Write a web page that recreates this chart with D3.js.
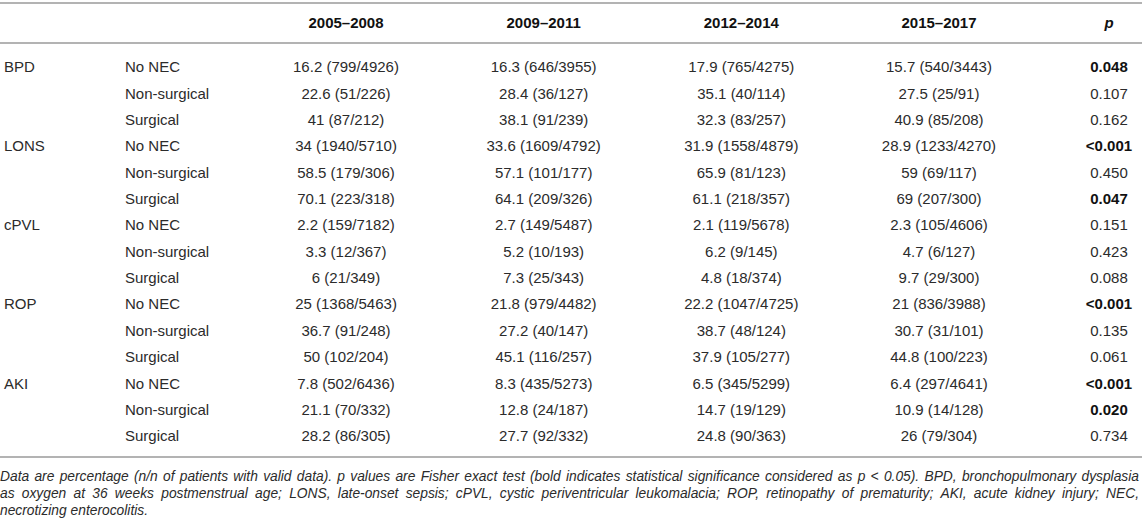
<!DOCTYPE html>
<html><head><meta charset="utf-8">
<script src="https://cdn.jsdelivr.net/npm/d3@7"></script>
<style>html,body{margin:0;padding:0;background:#fff;}svg{display:block;}</style>
</head><body><svg id="c" width="1142" height="525"></svg>
<script>
const outcomes = ["BPD","LONS","cPVL","ROP","AKI"];
const groups = ["No NEC","Non-surgical","Surgical"];
const periods = ["2005–2008","2009–2011","2012–2014","2015–2017"];
const pct = [
 [16.2,16.3,17.9,15.7],[22.6,28.4,35.1,27.5],[41,38.1,32.3,40.9],
 [34,33.6,31.9,28.9],[58.5,57.1,65.9,59],[70.1,64.1,61.1,69],
 [2.2,2.7,2.1,2.3],[3.3,5.2,6.2,4.7],[6,7.3,4.8,9.7],
 [25,21.8,22.2,21],[36.7,27.2,38.7,30.7],[50,45.1,37.9,44.8],
 [7.8,8.3,6.5,6.4],[21.1,12.8,14.7,10.9],[28.2,27.7,24.8,26]
];
const nEvents = [
 [799,646,765,540],[51,36,40,25],[87,91,83,85],
 [1940,1609,1558,1233],[179,101,81,69],[223,209,218,207],
 [159,149,119,105],[12,10,9,6],[21,25,18,29],
 [1368,979,1047,836],[91,40,48,31],[102,116,105,100],
 [502,435,345,297],[70,24,19,14],[86,92,90,79]
];
const nTotal = [
 [4926,3955,4275,3443],[226,127,114,91],[212,239,257,208],
 [5710,4792,4879,4270],[306,177,123,117],[318,326,357,300],
 [7182,5487,5678,4606],[367,193,145,127],[349,343,374,300],
 [5463,4482,4725,3988],[248,147,124,101],[204,257,277,223],
 [6436,5273,5299,4641],[332,187,129,128],[305,332,363,304]
];
const pValues = ["0.048","0.107","0.162","<0.001","0.450","0.047","0.151","0.423","0.088","<0.001","0.135","0.061","<0.001","0.020","0.734"];
const pBold = [true,false,false,true,false,true,false,false,false,true,false,false,true,true,false];
const footnote = [
 "Data are percentage (n/n of patients with valid data). p values are Fisher exact test (bold indicates statistical significance considered as p < 0.05). BPD, bronchopulmonary dysplasia",
 "as oxygen at 36 weeks postmenstrual age; LONS, late-onset sepsis; cPVL, cystic periventricular leukomalacia; ROP, retinopathy of prematurity; AKI, acute kidney injury; NEC,",
 "necrotizing enterocolitis."
];

const svg = d3.select("#c");
const font = "'Liberation Sans', Arial, Helvetica, sans-serif";
const txt = "#2b2b2b";
const rows = d3.range(pct.length);
const x = d3.scalePoint().domain(periods).range([346, 939]);
const xP = 1109;
const y = d3.scalePoint().domain(rows).range([67, 436]);
const lineColor = "#b3b3b3";

// rules
[3, 43, 457].forEach(yy => svg.append("line").attr("x1",0).attr("x2",1142).attr("y1",yy).attr("y2",yy)
  .attr("stroke",lineColor).attr("stroke-width",2));

// header
svg.selectAll("text.hdr").data(periods).join("text").attr("class","hdr")
  .attr("x", d=>x(d)).attr("y", 23).attr("dy","0.35em").attr("text-anchor","middle")
  .attr("font-family",font).attr("font-size",15).attr("font-weight","bold").attr("fill","#111").text(d=>d);
svg.append("text").attr("x",xP).attr("y",23).attr("dy","0.35em").attr("text-anchor","middle")
  .attr("font-family",font).attr("font-size",15).attr("font-weight","bold").attr("font-style","italic").attr("fill","#111").text("p");

// row labels
svg.selectAll("text.out").data(outcomes).join("text").attr("class","out")
  .attr("x",4).attr("y",(d,i)=>y(i*groups.length)).attr("dy","0.35em")
  .attr("font-family",font).attr("font-size",15).attr("fill",txt).text(d=>d);
svg.selectAll("text.grp").data(rows).join("text").attr("class","grp")
  .attr("x",125).attr("y",r=>y(r)).attr("dy","0.35em")
  .attr("font-family",font).attr("font-size",15).attr("fill",txt).text(r=>groups[r%groups.length]);

// cells
const cells = [];
rows.forEach(r => periods.forEach((p,j) => cells.push({r, p, t: `${pct[r][j]} (${nEvents[r][j]}/${nTotal[r][j]})`})));
svg.selectAll("text.cell").data(cells).join("text").attr("class","cell")
  .attr("x",d=>x(d.p)).attr("y",d=>y(d.r)).attr("dy","0.35em").attr("text-anchor","middle")
  .attr("font-family",font).attr("font-size",15).attr("fill",txt).text(d=>d.t);
svg.selectAll("text.pv").data(rows).join("text").attr("class","pv")
  .attr("x",xP).attr("y",r=>y(r)).attr("dy","0.35em").attr("text-anchor","middle")
  .attr("font-family",font).attr("font-size",15).attr("font-weight",r=>pBold[r]?"bold":"normal")
  .attr("fill",r=>pBold[r]?"#111":txt).text(r=>pValues[r]);

// footnote (justified)
const fnY = [481, 498, 515];
const W = 1139;
const fs = 13.8;
footnote.forEach((line, li) => {
  const words = line.split(" ");
  const g = svg.append("g");
  const ts = g.selectAll("text").data(words).join("text")
    .attr("y", fnY[li]).attr("font-family",font).attr("font-size",fs).attr("font-style","italic")
    .attr("fill",txt).text(d=>d);
  const widths = [];
  ts.each(function(){ widths.push(this.getComputedTextLength()); });
  const total = d3.sum(widths);
  const justify = li < footnote.length - 1;
  const space = justify ? Math.max(2, (W - total) / (words.length - 1)) : fs*0.278;
  let cx = 0;
  ts.attr("x", (d,i) => { const v = cx; cx += widths[i] + space; return v; });
});
</script></body></html>
